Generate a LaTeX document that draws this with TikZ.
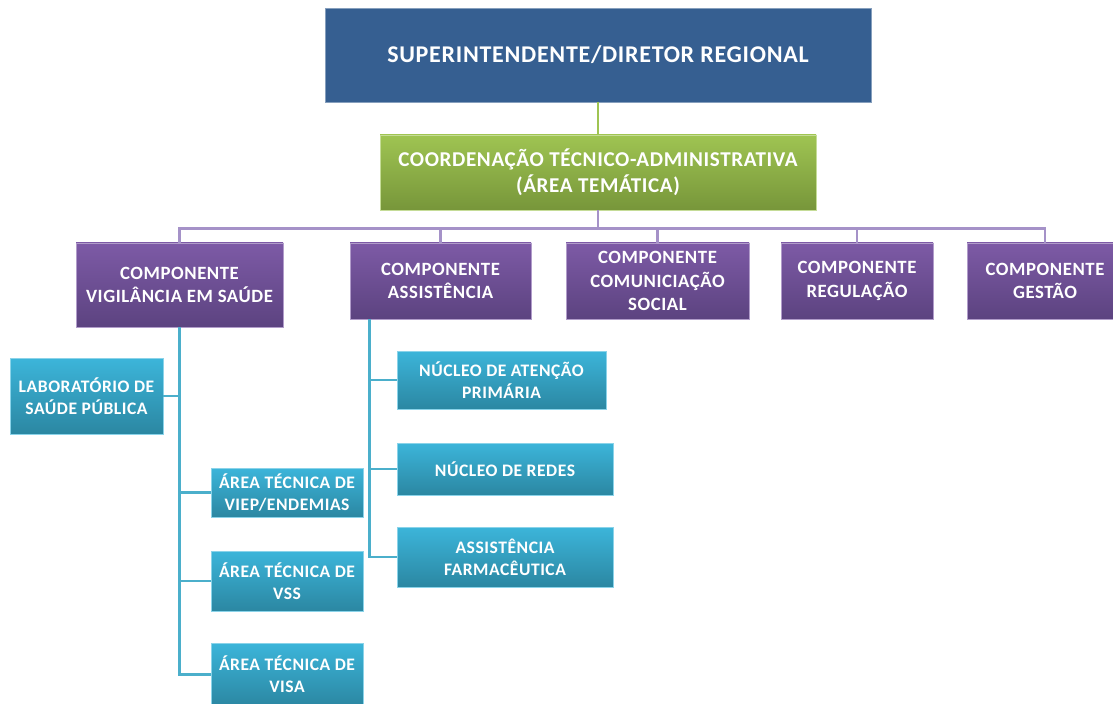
\documentclass[tikz,border=0pt]{standalone}
\usepackage{fontspec}
\setmainfont{Carlito}[LetterSpace=3]
\usetikzlibrary{calc}
\definecolor{supblue}{HTML}{365F91}
\definecolor{grtop}{HTML}{9FC452}
\definecolor{grbot}{HTML}{77963A}
\definecolor{putop}{HTML}{7D5AA6}
\definecolor{pubot}{HTML}{5C4380}
\definecolor{cytop}{HTML}{3CB5DA}
\definecolor{cybot}{HTML}{2B87A2}
\definecolor{puline}{HTML}{A592C8}
\definecolor{cyline}{HTML}{4BAFCB}
\begin{document}
\begin{tikzpicture}[x=0.3mm,y=-0.3mm,
  box/.style={rectangle,inner sep=0pt,align=center,text=white,line width=.5pt},
  blbox/.style={box,fill=supblue,draw=supblue!60!white,font=\fontsize{20.5}{24}\selectfont\bfseries},
  grbox/.style={box,top color=grtop,bottom color=grbot,draw=grtop!60!white,font=\fontsize{18}{22}\selectfont\bfseries},
  pubox/.style={box,top color=putop,bottom color=pubot,draw=putop!60!white,font=\fontsize{16}{20}\selectfont\bfseries},
  cybox/.style={box,top color=cytop,bottom color=cybot,draw=cytop!60!white,font=\fontsize{15}{19}\selectfont\bfseries},
  gline/.style={draw=grtop,line width=2.2pt},
  pline/.style={draw=puline,line width=2.2pt},
  cline/.style={draw=cyline,line width=2.2pt}]
\useasboundingbox (0,0) rectangle (1113,704);

\node[blbox,minimum width=546*0.3mm,minimum height=94*0.3mm] (sup) at (598,55) {SUPERINTENDENTE/DIRETOR REGIONAL};
\node[grbox,minimum width=436*0.3mm,minimum height=75*0.3mm] (coord) at (598,172.5) {COORDENAÇÃO TÉCNICO-ADMINISTRATIVA\\(ÁREA TEMÁTICA)};

\foreach \n/\x/\y/\w/\h/\t in {vig/179.5/285/207/84/{COMPONENTE\\VIGILÂNCIA EM SAÚDE},
    assist/440.5/281/181/76/{COMPONENTE\\ASSISTÊNCIA},
    comsoc/657.5/281/183/76/{COMPONENTE\\COMUNICIAÇÃO\\SOCIAL},
    reg/857/281/152/76/{COMPONENTE\\REGULAÇÃO},
    gest/1045/281/156/76/{COMPONENTE\\GESTÃO}}
{
    \node[pubox,minimum width=\w*0.3mm,minimum height=\h*0.3mm] (\n) at (\x,\y) {\t};
}

\foreach \n/\x/\y/\w/\h/\t in {lab/86.5/396/153/76/{LABORATÓRIO DE\\SAÚDE PÚBLICA},
    viep/287/492.5/152/49/{ÁREA TÉCNICA DE\\VIEP/ENDEMIAS},
    vss/287/581/152/60/{ÁREA TÉCNICA DE\\VSS},
    visa/287/674.5/152/63/{ÁREA TÉCNICA DE\\VISA},
    nap/501.5/380/209/58/{NÚCLEO DE ATENÇÃO\\PRIMÁRIA},
    redes/505/469/216/52/{NÚCLEO DE REDES},
    farm/505/557/216/60/{ASSISTÊNCIA\\FARMACÊUTICA}}
{
    \node[cybox,minimum width=\w*0.3mm,minimum height=\h*0.3mm] (\n) at (\x,\y) {\t};
}

\draw[gline] (sup.south) -- (coord.north);
\draw[pline] (coord.south) -- ++(0,18) coordinate (bar);
\foreach \n in {vig,assist,comsoc,reg,gest}
{
    \draw[pline] (bar) -| (\n.north);
}

\draw[cline] (vig.south) |- (visa.west);
\foreach \n in {lab.east,viep.west,vss.west}
{
    \draw[cline] (vig.south |- \n) -- (\n);
}

\coordinate (atrunk) at ($(assist.south west)+(20,0)$);
\draw[cline] (atrunk) |- (farm.west);
\foreach \n in {nap,redes}
{
    \draw[cline] (atrunk |- \n.west) -- (\n.west);
}
\end{tikzpicture}
\end{document}
